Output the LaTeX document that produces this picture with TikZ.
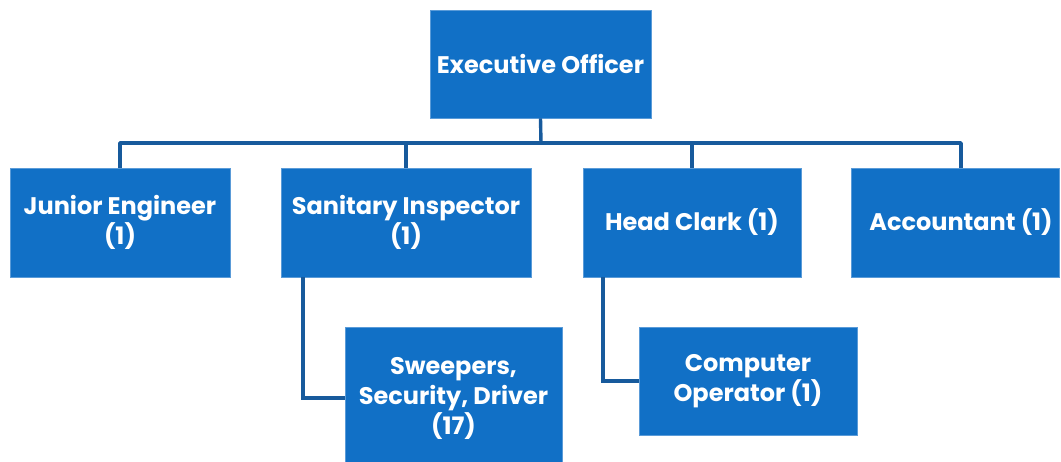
\documentclass[tikz,border=0pt]{standalone}
\usepackage{fontspec}
\setmainfont{Poppins}
\definecolor{boxblue}{HTML}{1170C6}
\definecolor{edgeblue}{HTML}{5A9BD8}
\definecolor{lineblue}{HTML}{175A9C}
\begin{document}
\begin{tikzpicture}[x=1pt,y=-1pt,
  orgbox/.style={rectangle, fill=boxblue, draw=edgeblue, line width=0.6pt,
    text=white, align=center, inner sep=0pt,
    font=\fontsize{24}{30}\selectfont\bfseries},
  conn/.style={draw=lineblue, line width=3.4pt}]
\useasboundingbox (0,0) rectangle (1061,461);
\node[orgbox, minimum width=221, minimum height=108] (exec) at (540.5,64) {Executive Officer};
\node[orgbox, minimum width=220, minimum height=109] (je) at (120,222.5) {Junior Engineer\\(1)};
\node[orgbox, minimum width=250, minimum height=109] (si) at (406,222.5) {Sanitary Inspector\\(1)};
\node[orgbox, minimum width=218, minimum height=109] (hc) at (692,222.5) {Head Clark (1)};
\node[orgbox, minimum width=208, minimum height=109] (acct) at (955,222.5) {\hspace*{12pt}Accountant (1)};
\node[orgbox, minimum width=217, minimum height=142] (sw) at (453.5,398) {Sweepers,\\Security, Driver\\(17)};
\node[orgbox, minimum width=218, minimum height=108] (co) at (748,381) {Computer\\Operator (1)};
\coordinate (bus) at (541,143);
\coordinate (busl) at (120,143);
\coordinate (busr) at (961,143);
\draw[conn] (exec.south) -- (bus);
\draw[conn, line join=round] (je.north) -- (busl) -- (busr) -- (busr |- acct.north);
\draw[conn] (bus -| si.north) -- (si.north);
\draw[conn] (bus -| hc.north) -- (hc.north);
\draw[conn] ([xshift=-103pt]si.south) |- (sw.west);
\draw[conn] ([xshift=-89pt]hc.south) |- (co.west);
\end{tikzpicture}
\end{document}
